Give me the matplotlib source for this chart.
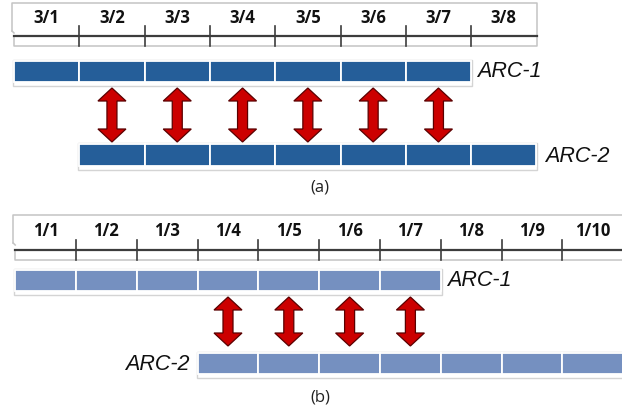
import matplotlib.pyplot as plt
from matplotlib.patches import Rectangle, Polygon

# panel (a)
dates_a = ['3/1', '3/2', '3/3', '3/4', '3/5', '3/6', '3/7', '3/8']
arc1_a = [0, 1, 2, 3, 4, 5, 6]
arc2_a = [1, 2, 3, 4, 5, 6, 7]
arrows_a = [1, 2, 3, 4, 5, 6]

# panel (b)
dates_b = ['1/1', '1/2', '1/3', '1/4', '1/5', '1/6', '1/7', '1/8', '1/9', '1/10']
arc1_b = [0, 1, 2, 3, 4, 5, 6]
arc2_b = [3, 4, 5, 6, 7, 8, 9]
arrows_b = [3, 4, 5, 6]

W, H = 622, 411
fig = plt.figure(figsize=(W / 100, H / 100), dpi=100)

def arrow_poly(xc, y0, y1, ppc):
    hw = 14 / ppc   # head half width
    sw = 5 / ppc    # shaft half width
    hh = 13         # head height (px)
    pts = [(xc, y0), (xc + hw, y0 + hh), (xc + sw, y0 + hh), (xc + sw, y1 - hh),
           (xc + hw, y1 - hh), (xc, y1), (xc - hw, y1 - hh), (xc - sw, y1 - hh),
           (xc - sw, y0 + hh), (xc - hw, y0 + hh)]
    return Polygon(pts, closed=True, facecolor='#CC0000', edgecolor='#5a0000', lw=0.9)

def bar(ax, cols, ytop, ybot, color, ppc):
    x0, x1 = min(cols), max(cols) + 1
    ax.add_patch(Rectangle((x0 - 1 / ppc, ytop - 1), x1 - x0 + 2 / ppc, ybot - ytop + 5,
                           facecolor='white', edgecolor='#d4d4d4', lw=1, clip_on=False))
    for c in cols:
        ax.add_patch(Rectangle((c, ytop), 1, ybot - ytop, facecolor=color,
                               edgecolor='white', lw=1.3, clip_on=False))

def panel(ax, labels, arc1, arc2, arrows, color, ppc, y, box_right, arc2_left_label):
    n = len(labels)
    top, lab_y, line_y, bot = y['box']
    # header box
    xl = -2 / ppc
    ax.plot([xl, xl, box_right, box_right, 0, 0], [top + 28, top, top, bot, bot, line_y],
            color='#c4c4c4', lw=1.1, clip_on=False)
    ax.plot([xl, 0], [top + 28, top + 30], color='#c4c4c4', lw=1.1, clip_on=False)
    ax.plot([0, box_right], [line_y, line_y], color='#3c3c3c', lw=1.6, clip_on=False)
    for i in range(1, n):
        ax.plot([i, i], [line_y - 10, line_y + 10], color='#3c3c3c', lw=1.2, clip_on=False)
    for i, t in enumerate(labels):
        ax.text(i + 0.5, lab_y, t, ha='center', va='center', fontsize=12,
                fontweight='bold', family='Open Sans', color='#111111', clip_on=False)
    # bars
    b1t, b1b = y['arc1']
    b2t, b2b = y['arc2']
    bar(ax, arc1, b1t, b1b, color, ppc)
    bar(ax, arc2, b2t, b2b, color, ppc)
    lab_kw = dict(fontsize=15.5, style='italic', family='Liberation Sans', va='center',
                  color='#111111', clip_on=False)
    ax.text(max(arc1) + 1 + 6 / ppc, (b1t + b1b) / 2, 'ARC-1', ha='left', **lab_kw)
    if arc2_left_label:
        ax.text(min(arc2) - 8 / ppc, (b2t + b2b) / 2 + 1, 'ARC-2', ha='right', **lab_kw)
    else:
        ax.text(max(arc2) + 1 + 9 / ppc, (b2t + b2b) / 2 + 1, 'ARC-2', ha='left', **lab_kw)
    a0, a1 = y['arrow']
    for c in arrows:
        ax.add_patch(arrow_poly(c + 0.5, a0, a1, ppc))

# panel (a): 8 columns from x=14 to 536 px
ppc_a = 65.3
ax_a = fig.add_axes([14 / W, (H - 200) / H, 8 * ppc_a / W, 200 / H])
ax_a.set_xlim(0, 8)
ax_a.set_ylim(200, 0)
ax_a.axis('off')
panel(ax_a, dates_a, arc1_a, arc2_a, arrows_a, '#255E99', ppc_a,
      {'box': (3, 18, 36, 46), 'arc1': (61, 82), 'arc2': (144, 166), 'arrow': (88, 142)},
      8 + 1 / ppc_a, False)

# panel (b): 10 columns from x=15 px
ppc_b = 60.8
ax_b = fig.add_axes([15.2 / W, 0, 10 * ppc_b / W, 211 / H])
ax_b.set_xlim(0, 10)
ax_b.set_ylim(411, 200)
ax_b.axis('off')
panel(ax_b, dates_b, arc1_b, arc2_b, arrows_b, '#7590C0', ppc_b,
      {'box': (215, 231, 250, 260), 'arc1': (270, 291), 'arc2': (353, 374), 'arrow': (297, 346)},
      10.2, True)

fig.text(320 / W, 1 - 187 / H, '(a)', ha='center', va='center', fontsize=12, family='Open Sans',
         color='#222222')
fig.text(320 / W, 1 - 397 / H, '(b)', ha='center', va='center', fontsize=12, family='Open Sans',
         color='#222222')

fig.savefig('out.png', dpi=100)
